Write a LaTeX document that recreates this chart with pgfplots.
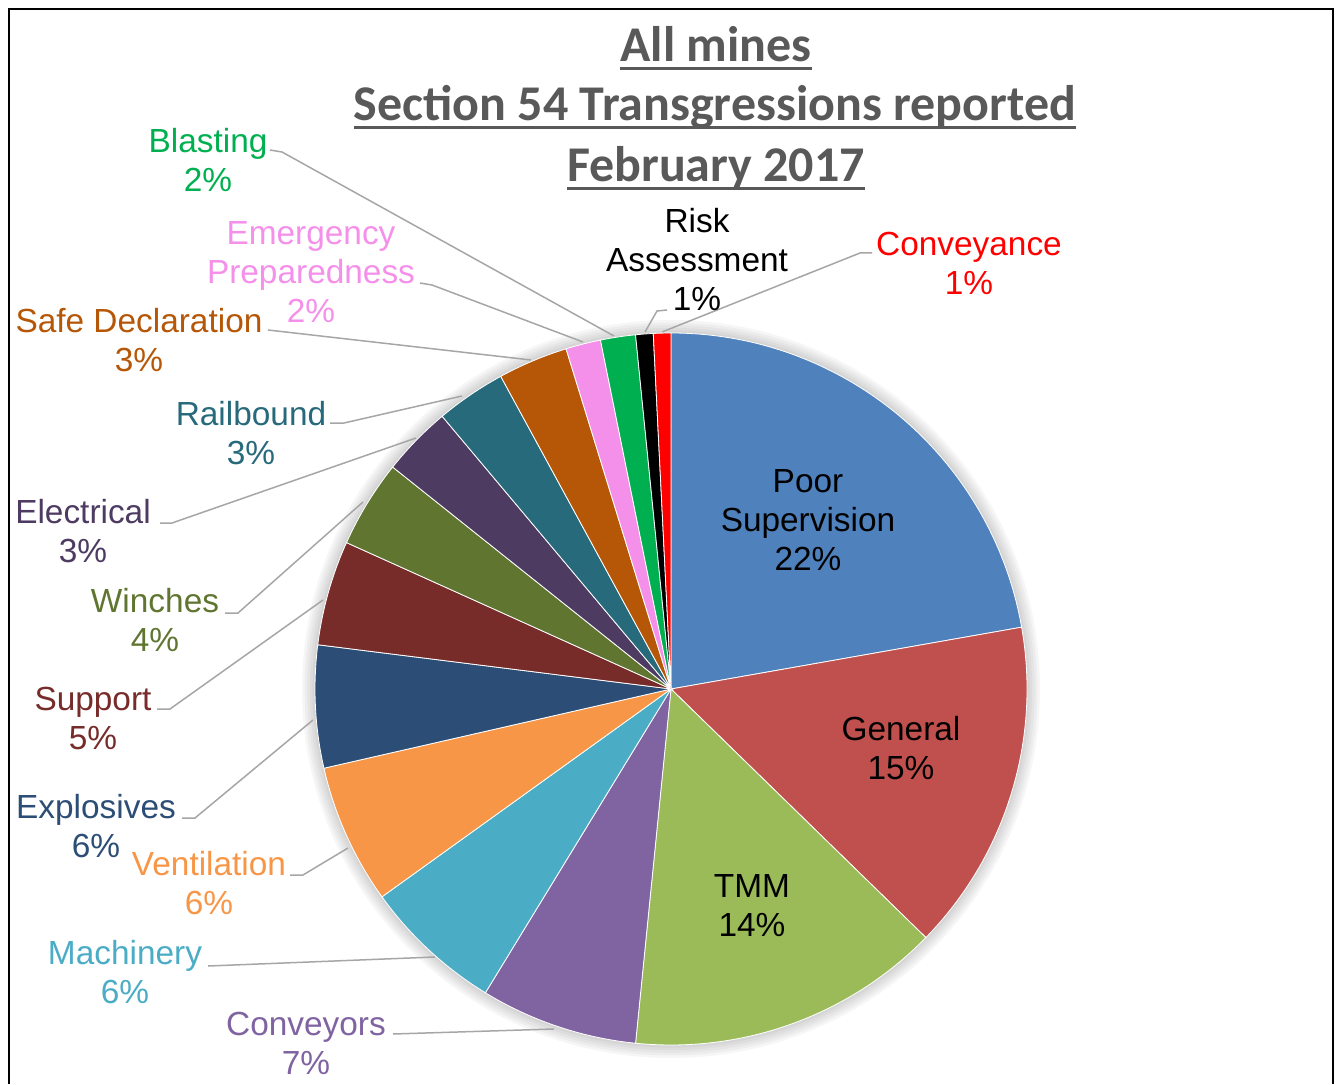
\documentclass[border=0pt]{standalone}
\usepackage{pgfplots}
\pgfplotsset{compat=1.18}
\usepackage{pgfplotstable}
\usepackage{fontspec}
\setmainfont{Liberation Sans}
\newfontfamily\titlefont{Carlito}
\newcommand\ttlul[1]{\setbox0\hbox{#1}\rlap{\rule[-3.9pt]{\wd0}{1.3pt}}\box0}
\definecolor{cPS}{HTML}{4F81BD}
\definecolor{cGe}{HTML}{C0504D}
\definecolor{cTM}{HTML}{9BBB59}
\definecolor{cCo}{HTML}{8064A2}
\definecolor{cMa}{HTML}{4BACC6}
\definecolor{cVe}{HTML}{F79646}
\definecolor{cEx}{HTML}{2C4D75}
\definecolor{cSu}{HTML}{772C2A}
\definecolor{cWi}{HTML}{5F7530}
\definecolor{cEl}{HTML}{4D3B62}
\definecolor{cRa}{HTML}{276A7C}
\definecolor{cSD}{HTML}{B65708}
\definecolor{cEm}{HTML}{F490EA}
\definecolor{cBl}{HTML}{00B050}
\definecolor{cRi}{HTML}{000000}
\definecolor{cCv}{HTML}{FF0000}
\definecolor{leader}{HTML}{A6A6A6}
\definecolor{ttl}{HTML}{595959}
\pgfplotstableread[col sep=comma]{
name,value,col
Poor Supervision,28,cPS
General,19,cGe
TMM,18,cTM
Conveyors,9,cCo
Machinery,8,cMa
Ventilation,8,cVe
Explosives,7,cEx
Support,6,cSu
Winches,5,cWi
Electrical,4,cEl
Railbound,4,cRa
Safe Declaration,4,cSD
Emergency Preparedness,2,cEm
Blasting,2,cBl
Risk Assessment,1,cRi
Conveyance,1,cCv
}\piedata
\begin{document}
\begin{tikzpicture}
\begin{axis}[hide axis, scale only axis, width=668.5pt, height=542pt,
  xmin=0, xmax=1337, ymin=0, ymax=1084, y dir=reverse, clip=false]
\path (axis cs:0,0) rectangle (axis cs:1337,1084);
% frame
\draw[black, line width=1pt] (axis cs:9,1084) -- (axis cs:9,9) -- (axis cs:1333,9) -- (axis cs:1333,1084);
\pgfplotsextra{
  \pgfplotstablegetrowsof{\piedata}
  \pgfmathtruncatemacro\lastrow{\pgfplotsretval-1}
  \gdef\pietotal{0}
  \foreach \i in {0,...,\lastrow}{
    \pgfplotstablegetelem{\i}{value}\of\piedata
    \pgfmathsetmacro\tmp{\pietotal+\pgfplotsretval}
    \xdef\pietotal{\tmp}
  }
  % soft shadow
  \foreach \k in {1,...,5}{
    \fill[black, opacity=0.035] (axis cs:671,689) circle[radius={178pt+\k*1.3pt}];
  }
  \gdef\startang{90}
  \foreach \i in {0,...,\lastrow}{
    \pgfplotstablegetelem{\i}{value}\of\piedata
    \let\v\pgfplotsretval
    \pgfplotstablegetelem{\i}{col}\of\piedata
    \let\c\pgfplotsretval
    \pgfmathsetmacro\endang{\startang-360*\v/\pietotal}
    \fill[\c, draw=white, line width=0.4pt] (axis cs:671,689) -- ++({\startang}:178pt)
      arc[start angle=\startang, end angle=\endang, radius=178pt] -- cycle;
    \xdef\startang{\endang}
  }
}
% leader lines
\begin{scope}[leader, line width=0.75pt]
\draw (axis cs:270,150) -- (axis cs:282,152) -- (axis cs:614,336);
\draw (axis cs:420,283) -- (axis cs:432,285) -- (axis cs:583,342);
\draw (axis cs:268,330) -- (axis cs:531,360);
\draw (axis cs:330,423) -- (axis cs:344,423) -- (axis cs:462,396);
\draw (axis cs:160,523) -- (axis cs:172,523) -- (axis cs:416,438);
\draw (axis cs:225,613) -- (axis cs:238,613) -- (axis cs:363,502);
\draw (axis cs:157,709) -- (axis cs:170,709) -- (axis cs:323,600);
\draw (axis cs:182,818) -- (axis cs:195,818) -- (axis cs:313,720);
\draw (axis cs:290,875) -- (axis cs:303,875) -- (axis cs:348,848);
\draw (axis cs:208,966) -- (axis cs:435,957);
\draw (axis cs:393,1034) -- (axis cs:554,1029);
\draw (axis cs:667,310) -- (axis cs:657,311) -- (axis cs:645,332);
\draw (axis cs:872,253) -- (axis cs:860,253) -- (axis cs:662,332);
\end{scope}
% labels
\begin{scope}[every node/.style={font=\fontsize{16.7}{19.5}\selectfont, align=center, inner sep=0pt}]
\node at (axis cs:808,520) {Poor\\Supervision\\22\%};
\node at (axis cs:901,748) {General\\15\%};
\node at (axis cs:752,906) {TMM\\14\%};
\node[text=cCo] at (axis cs:306,1043) {Conveyors\\7\%};
\node[text=cMa] at (axis cs:125,972) {Machinery\\6\%};
\node[text=cVe] at (axis cs:209,883) {Ventilation\\6\%};
\node[text=cEx] at (axis cs:96,826) {Explosives\\6\%};
\node[text=cSu] at (axis cs:93,718) {Support\\5\%};
\node[text=cWi] at (axis cs:155,620) {Winches\\4\%};
\node[text=cEl] at (axis cs:83,531) {Electrical\\3\%};
\node[text=cRa] at (axis cs:251,433) {Railbound\\3\%};
\node[text=cSD] at (axis cs:139,340) {Safe Declaration\\3\%};
\node[text=cEm] at (axis cs:311,272) {Emergency\\Preparedness\\2\%};
\node[text=cBl] at (axis cs:208,160) {Blasting\\2\%};
\node at (axis cs:697,259) {Risk\\Assessment\\1\%};
\node[text=cCv] at (axis cs:969,263) {Conveyance\\1\%};
\end{scope}
% title
\begin{scope}[every node/.style={font=\titlefont\bfseries\fontsize{25}{30.5}\selectfont, text=ttl, anchor=base, inner sep=0pt}]
\node at (axis cs:716,62) {\ttlul{All mines}};
\node at (axis cs:715,121) {\ttlul{Section 54 Transgressions reported}};
\node at (axis cs:716,182) {\ttlul{February 2017}};
\end{scope}
\end{axis}
\end{tikzpicture}
\end{document}
